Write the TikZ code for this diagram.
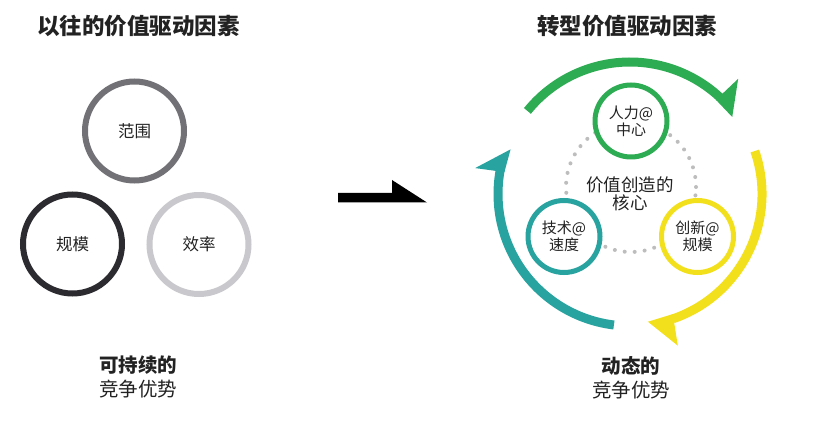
\documentclass[tikz,border=0pt]{standalone}
\usepackage{fontspec}
\setmainfont{Noto Sans CJK SC}
\usetikzlibrary{calc}
\definecolor{cgreen}{HTML}{2EAC53}
\definecolor{cteal}{HTML}{28A3A0}
\definecolor{cyellow}{HTML}{F3E01C}
\definecolor{cgrayA}{HTML}{717176}
\definecolor{cgrayB}{HTML}{2B2B30}
\definecolor{cgrayC}{HTML}{C9C9CD}
\definecolor{ctext}{HTML}{222222}
\definecolor{cdot}{HTML}{BDBDBD}
\tikzset{
  oldring/.style={circle, draw, line width=6pt, minimum size=99pt, inner sep=0pt, text=ctext, font=\fontsize{16.5}{18}\selectfont},
  newring/.style={circle, draw, fill=white, line width=5pt, minimum size=72pt, inner sep=0pt, text=ctext, align=center, font=\fontsize{15}{17}\selectfont},
  titletext/.style={text=ctext, font=\fontsize{22.5}{24}\selectfont\bfseries},
  foottext/.style={text=ctext, align=center, font=\fontsize{19.5}{24}\selectfont},
  coretext/.style={text=ctext, align=center, font=\fontsize{17.5}{18.5}\selectfont},
  cyclearc/.style={line width=9pt}
}
\begin{document}
\begin{tikzpicture}[x=1pt,y=1pt]
\useasboundingbox (0,0) rectangle (814,423);
\fill[white] (0,0) rectangle (814,423);

% titles
\node[titletext] (t1) at (138.5,397) {以往的价值驱动因素};
\node[titletext] (t2) at (627,397) {转型价值驱动因素};

% left rings
\node[oldring, draw=cgrayA] (scope) at (134.5,292) {范围};
\node[oldring, draw=cgrayB] (scale) at (72.5,179) {规模};
\node[oldring, draw=cgrayC] (eff) at (199,178.5) {效率};

\node[foottext] (f1) at (138,46) {\textbf{可持续的}\\竞争优势};

% middle arrow
\fill[black] (338,230) -- (392,230) -- (392,243) -- (427,220.5) -- (338,220.5) -- cycle;

% right cycle
\coordinate (C) at (630,229);
\coordinate (D) at (631,236);

% green arc
\draw[cyclearc, cgreen] ($(C)+(141:132)$) arc[start angle=141, end angle=47, radius=132];
\fill[cgreen] ($(C)+(47.6:127.5)$) -- ($(C)+(46.8:158)$) -- ($(C)+(37:128)$) -- cycle;
% teal arc
\draw[cyclearc, cteal] ($(C)+(263:132)$) arc[start angle=263, end angle=169.5, radius=132];
\fill[cteal] ($(C)+(170.1:127.5)$) -- ($(C)+(170.5:157)$) -- ($(C)+(159.5:127.5)$) -- cycle;
% yellow arc
\draw[cyclearc, cyellow] ($(C)+(19:132)$) arc[start angle=19, end angle=-71, radius=132];
\fill[cyellow] ($(C)+(-70.4:127.5)$) -- ($(C)+(-72.5:159)$) -- ($(C)+(-82:129)$) -- cycle;

% dotted core circle
\draw[cdot, line width=4pt, line cap=round, dash pattern=on 0pt off 10pt] (D) circle[radius=65];

\node[coretext] (core) at (630,229) {价值创造的\\核心};

% small rings
\node[newring, draw=cgreen] (people) at (631,302) {人力@\\中心};
\node[newring, draw=cteal] (tech) at (564,186.5) {技术@\\速度};
\node[newring, draw=cyellow] (innov) at (697.5,186.5) {创新@\\规模};

\node[foottext] (f2) at (631,45.5) {\textbf{动态的}\\竞争优势};
\end{tikzpicture}
\end{document}
